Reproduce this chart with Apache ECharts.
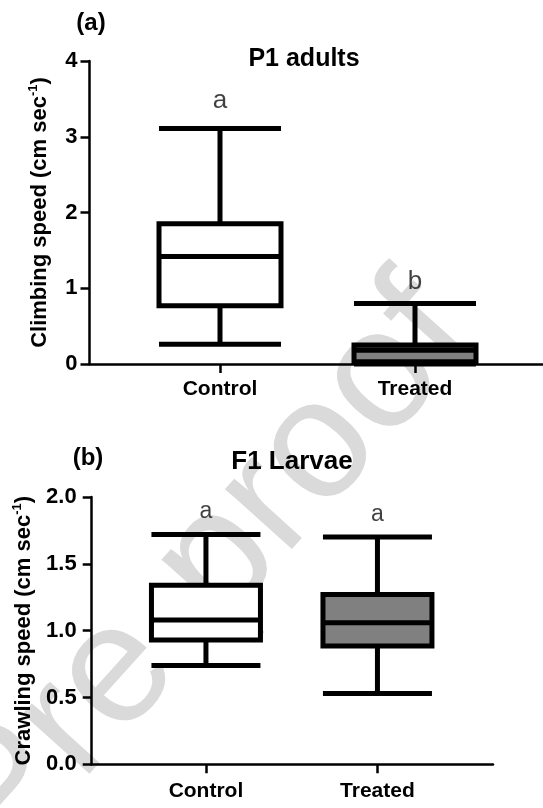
<!DOCTYPE html>
<html>
<head>
<meta charset="utf-8">
<script src="https://cdn.jsdelivr.net/npm/echarts@6/dist/echarts.min.js"></script>
<style>
  html, body { margin: 0; padding: 0; background: #fff; }
  #chart { width: 543px; height: 808px; }
</style>
</head>
<body>
<div id="chart"></div>
<script>
  const categories = ['Control', 'Treated']
  // box values: [min, Q1, median, Q3, max]
  const adultsBoxes = [
    [0.26, 0.77, 1.42, 1.85, 3.11],
    [0.00, 0.03, 0.18, 0.25, 0.80]
  ]
  const larvaeBoxes = [
    [0.74, 0.93, 1.08, 1.34, 1.72],
    [0.53, 0.885, 1.06, 1.27, 1.70]
  ]
  const adultsLetters = ['a', 'b']
  const adultsLetterY = [3.47, 1.09]
  const larvaeLetters = ['a', 'a']
  const larvaeLetterY = [1.89, 1.865]
  const adultsTicks = [0, 1, 2, 3, 4]
  const larvaeTicks = [0.0, 0.5, 1.0, 1.5, 2.0]
  const boxColors = ['#ffffff', '#808080']

  const font = "'Liberation Sans', Arial, sans-serif"
  const black = '#000'

  // outer grids carry the y axis and the long baseline, inner grids hold the boxes
  const grids = [
    { left: 89.5, right: 0, top: 61, height: 303 },
    { left: 122.5, width: 390, top: 61, height: 303 },
    { left: 91.7, width: 401.3, top: 497, height: 267.3 },
    { left: 120.2, width: 343, top: 497, height: 267.3 }
  ]

  function frameX(gridIndex) {
    return {
      gridIndex: gridIndex, type: 'value', min: 0, max: 1,
      axisLine: { show: true, onZero: false, lineStyle: { color: black, width: 2.5 } },
      axisTick: { show: false }, axisLabel: { show: false }, splitLine: { show: false }
    }
  }

  function catX(gridIndex, margin) {
    return {
      gridIndex: gridIndex, type: 'category', data: categories,
      axisLine: { show: false },
      axisTick: { show: true, alignWithLabel: true, length: 9, lineStyle: { color: black, width: 2.5 } },
      axisLabel: { margin: margin, color: black, fontSize: 21, fontWeight: 'bold', fontFamily: font }
    }
  }

  function frameY(gridIndex, ticks, digits, labelMargin, name, nameGap) {
    return {
      gridIndex: gridIndex, type: 'value',
      min: ticks[0], max: ticks[ticks.length - 1], interval: ticks[1] - ticks[0],
      axisLine: { show: true, lineStyle: { color: black, width: 2.5 } },
      axisTick: { show: true, length: 9, lineStyle: { color: black, width: 2.5 } },
      axisLabel: {
        margin: labelMargin, color: black, fontSize: 22, fontWeight: 'bold', fontFamily: font,
        formatter: v => v.toFixed(digits)
      },
      splitLine: { show: false },
      name: '{n|' + name + ' (cm sec}{s|-1}{n|)}',
      nameLocation: 'middle',
      nameGap: nameGap,
      nameTextStyle: {
        rich: {
          n: { fontSize: 22, fontWeight: 'bold', fontFamily: font, color: black, lineHeight: 26 },
          s: { fontSize: 13, fontWeight: 'bold', fontFamily: font, color: black, lineHeight: 26, verticalAlign: 'top' }
        }
      }
    }
  }

  function hiddenY(gridIndex, ticks) {
    return { gridIndex: gridIndex, type: 'value', show: false, min: ticks[0], max: ticks[ticks.length - 1] }
  }

  function boxSeries(axisIndex, boxes, width) {
    return {
      type: 'boxplot',
      xAxisIndex: axisIndex, yAxisIndex: axisIndex,
      boxWidth: [width, width],
      silent: true,
      itemStyle: { borderColor: black, borderWidth: 5 },
      data: boxes.map((v, i) => ({ value: v, itemStyle: { color: boxColors[i] } }))
    }
  }

  function letterSeries(axisIndex, letters, ys, size) {
    return {
      type: 'scatter',
      xAxisIndex: axisIndex, yAxisIndex: axisIndex,
      symbolSize: 0,
      silent: true,
      data: ys.map((y, i) => [i, y]),
      label: {
        show: true, position: 'inside',
        formatter: p => letters[p.dataIndex],
        color: '#111', fontSize: size, fontFamily: font
      }
    }
  }

  function caption(text, x, y, size) {
    return {
      type: 'text', x: x, y: y,
      style: { text: text, font: 'bold ' + size + 'px ' + font, fill: black, align: 'center', verticalAlign: 'middle' }
    }
  }

  const chart = echarts.init(document.getElementById('chart'), null, { renderer: 'canvas' })
  chart.setOption({
    animation: false,
    backgroundColor: '#fff',
    grid: grids,
    xAxis: [frameX(0), catX(1, 15), frameX(2), catX(3, 16)],
    yAxis: [
      frameY(0, adultsTicks, 0, 12, 'Climbing speed', 37),
      hiddenY(1, adultsTicks),
      frameY(2, larvaeTicks, 1, 15, 'Crawling speed', 52),
      hiddenY(3, larvaeTicks)
    ],
    graphic: [
      {
        type: 'text', x: 208, y: 572, z: -1, silent: true,
        rotation: 48 * Math.PI / 180,
        style: { text: 'Pre-proof', font: '170px ' + font, fill: '#dadada', align: 'center', verticalAlign: 'middle' }
      },
      caption('(a)', 91, 23, 24),
      caption('P1 adults', 304, 59, 25),
      caption('(b)', 88, 458, 24),
      caption('F1 Larvae', 292, 462, 26)
    ],
    series: [
      boxSeries(1, adultsBoxes, 122),
      letterSeries(1, adultsLetters, adultsLetterY, 26),
      boxSeries(3, larvaeBoxes, 109),
      letterSeries(3, larvaeLetters, larvaeLetterY, 23)
    ]
  })
</script>
</body>
</html>
